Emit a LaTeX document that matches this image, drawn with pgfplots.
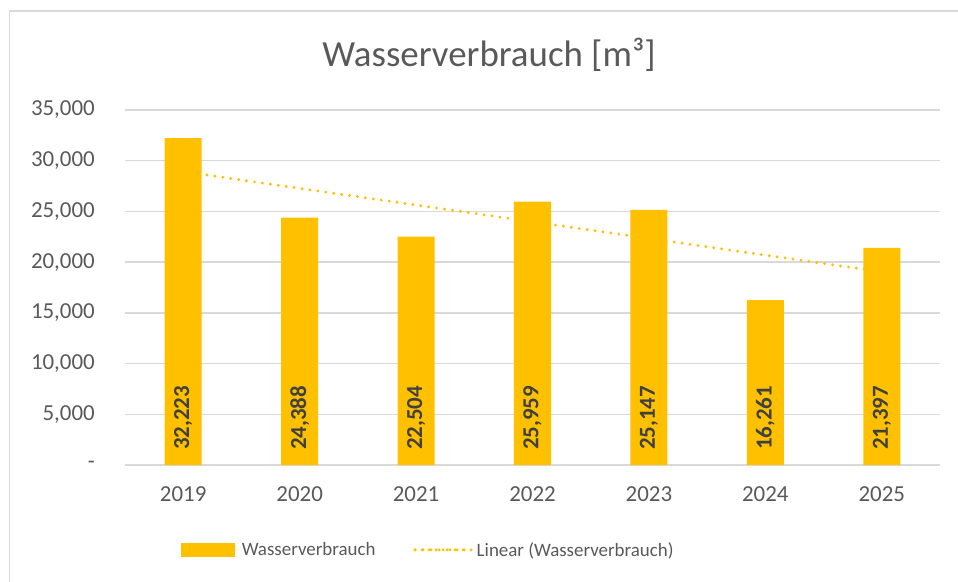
\documentclass[border=0pt]{standalone}
\usepackage{pgfplots}
\pgfplotsset{compat=1.18}
\usepackage{fontspec}
\setmainfont{Carlito}
\definecolor{gold}{HTML}{FFC000}
\definecolor{txt}{HTML}{595959}
\definecolor{gridc}{HTML}{D9D9D9}
\definecolor{dark}{HTML}{404040}
\begin{document}
\begin{tikzpicture}
\path[use as bounding box] (-125bp,-117bp) rectangle (833bp,465bp);
\draw[gridc, line width=1.2bp] (-115.5bp,-117bp) -- (-115.5bp,454bp) -- (833bp,454bp);
\node[txt, font=\fontsize{37}{44}\selectfont] at (364bp,410bp) {Wasserverbrauch [m³]};
\begin{axis}[
  at={(0bp,0bp)}, anchor=south west,
  scale only axis, width=815bp, height=355bp,
  xmin=-0.5, xmax=6.5, ymin=0, ymax=35000,
  scaled y ticks=false,
  axis line style={draw=none}, major tick length=0pt,
  ymajorgrids, grid style={gridc, line width=1.3bp},
  xtick={0,...,6}, xticklabels={2019,2020,2021,2022,2023,2024,2025},
  ytick={0,5000,...,35000},
  yticklabels={-,{5,000},{10,000},{15,000},{20,000},{25,000},{30,000},{35,000}},
  tick label style={font=\fontsize{23}{28}\selectfont, text=txt},
  yticklabel style={anchor=east, inner sep=0pt, xshift=-30bp},
  xticklabel style={anchor=north, inner sep=0pt, yshift=-21bp},
  /pgf/number format/1000 sep={,},
  /pgf/number format/assume math mode=true,
  legend style={at={(0.372,-0.239)}, anchor=center, draw=none, fill=none,
    legend columns=2, font=\fontsize{19}{23}\selectfont, text=txt,
    /tikz/every even column/.append style={column sep=36bp}},
  legend cell align=left,
]
\addplot[ybar, bar width=37bp, fill=gold, draw=none,
  legend image code/.code={\fill[gold] (0bp,-7bp) rectangle (54bp,7bp); \path (0bp,0bp) -- (59bp,0bp);}]
  coordinates {(0,32223) (1,24388) (2,22504) (3,25959) (4,25147) (5,16261) (6,21397)};
\addlegendentry{Wasserverbrauch}
\addplot[gold, line width=3.2bp, line cap=round, dash pattern=on 0pt off 8bp,
  legend image code/.code={\draw[gold, line width=3.2bp, line cap=round, dash pattern=on 0pt off 7bp] (0bp,0bp) -- (55bp,0bp); \path (0bp,0bp) -- (58bp,0bp);}]
  coordinates {(0,28920.8) (6,19044.6)};
\addlegendentry{Linear (Wasserverbrauch)}
\addplot[draw=none, forget plot, point meta=explicit, nodes near coords,
  nodes near coords style={rotate=90, anchor=west, inner sep=0pt,
    font=\bfseries\fontsize{23}{28}\selectfont, text=dark}]
  coordinates {(0,1480) [32223] (1,1480) [24388] (2,1480) [22504] (3,1480) [25959]
    (4,1480) [25147] (5,1480) [16261] (6,1480) [21397]};
\end{axis}
\end{tikzpicture}
\end{document}
